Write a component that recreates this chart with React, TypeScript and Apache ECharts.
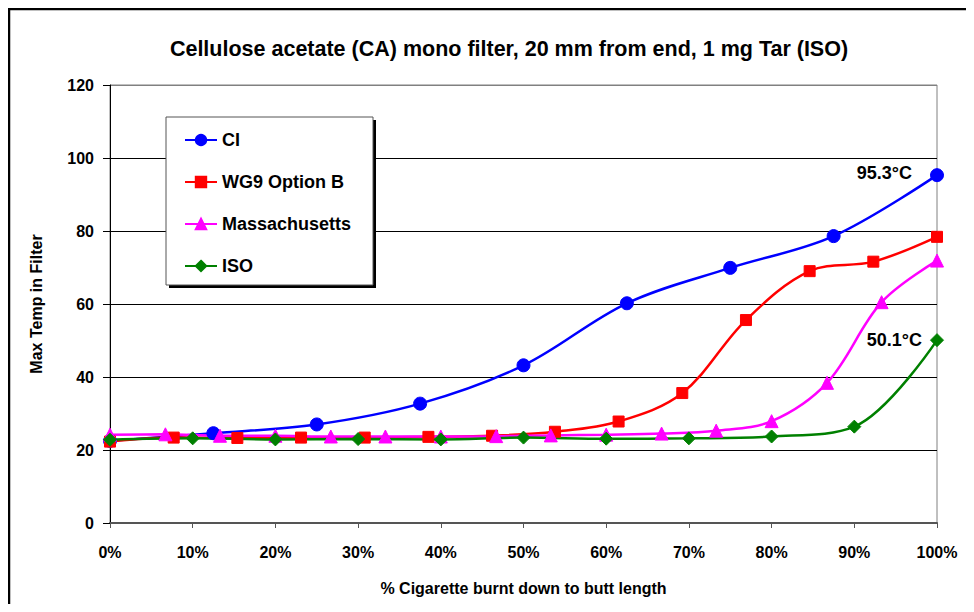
import React, { useEffect, useRef } from "react";
import * as echarts from "echarts";

const titleText = "Cellulose acetate (CA) mono filter, 20 mm from end, 1 mg Tar (ISO)";
const xAxisName = "% Cigarette burnt down to butt length";
const yAxisName = "Max Temp in Filter";

const ciX = [0, 12.5, 25, 37.5, 50, 62.5, 75, 87.5, 100];
const ciY = [22.5, 24.6, 27.0, 32.7, 43.2, 60.2, 69.9, 78.6, 95.3];

const wg9X = [0, 7.7, 15.4, 23.1, 30.8, 38.5, 46.2, 53.8, 61.5, 69.2, 76.9, 84.6, 92.3, 100];
const wg9Y = [22.3, 23.4, 23.3, 23.4, 23.4, 23.6, 23.9, 25.0, 27.8, 35.6, 55.6, 69.0, 71.6, 78.4];

const massX = [0, 6.7, 13.3, 20, 26.7, 33.3, 40, 46.7, 53.3, 60, 66.7, 73.3, 80, 86.7, 93.3, 100];
const massY = [24.2, 24.3, 23.9, 23.9, 23.7, 23.7, 23.7, 23.8, 24.0, 24.2, 24.5, 25.3, 27.9, 38.4, 60.5, 71.9];

const isoX = [0, 10, 20, 30, 40, 50, 60, 70, 80, 90, 100];
const isoY = [22.8, 23.2, 22.9, 23.0, 22.9, 23.4, 23.1, 23.2, 23.7, 26.4, 50.1];

const seriesNames = ["CI", "WG9 Option B", "Massachusetts", "ISO"];
const seriesColors = ["#0000FF", "#FF0000", "#FF00FF", "#008000"];

const FONT = "Liberation Sans, Arial, sans-serif";

export default function App() {
  const ref = useRef<HTMLDivElement>(null);
  useEffect(() => {
    if (!ref.current) return;
    const chart = echarts.init(ref.current, undefined, { renderer: "svg" });
    const pairs = (xs: number[], ys: number[]) => xs.map((x, i) => [x, ys[i]]);
    const labelStyle = { fontFamily: FONT, fontWeight: "bold" as const, fontSize: 18, color: "#000" };
    const ciData: any[] = pairs(ciX, ciY);
    ciData[ciData.length - 1] = {
      value: ciData[ciData.length - 1],
      label: { show: true, position: "left", distance: 18, offset: [0, -2], formatter: "95.3°C", ...labelStyle },
    };
    const isoData: any[] = pairs(isoX, isoY);
    isoData[isoData.length - 1] = {
      value: isoData[isoData.length - 1],
      label: { show: true, position: "left", distance: 8, offset: [0, 0], formatter: "50.1°C", ...labelStyle },
    };
    const mk = (name: string, color: string, data: any[], symbol: string, size: number) => ({
      name,
      type: "line",
      data,
      smooth: 0.35,
      symbol,
      symbolSize: size,
      showAllSymbol: true,
      lineStyle: { color, width: 2.5 },
      itemStyle: { color, borderColor: color, borderWidth: 1 },
      emphasis: { disabled: true },
    });
    chart.setOption({
      animation: false,
      backgroundColor: "#fff",
      title: {
        text: titleText,
        left: 504,
        textAlign: "center",
        top: 33,
        textStyle: { fontFamily: FONT, fontWeight: "bold", fontSize: 21.5, color: "#000" },
      },
      grid: { left: 110, right: 37, top: 85, bottom: 89, show: true, borderColor: "#808080", borderWidth: 1 },
      legend: {
        orient: "vertical",
        left: 179,
        top: 126,
        itemWidth: 32,
        itemHeight: 13,
        itemGap: 24,
        z: 5,
        data: seriesNames,
        textStyle: { fontFamily: FONT, fontWeight: "bold", fontSize: 18, color: "#000", lineHeight: 18 },
      },
      graphic: [
        { type: "rect", z: 3, shape: { x: 9, y: 9, width: 1100, height: 800 }, style: { fill: "none", stroke: "#000", lineWidth: 2.5 } },
        { type: "rect", z: 3, shape: { x: 169, y: 120, width: 207, height: 168 }, style: { fill: "#000" } },
        { type: "rect", z: 3, shape: { x: 166, y: 117, width: 207, height: 168 }, style: { fill: "#fff", stroke: "#555", lineWidth: 1 } },
      ],
      xAxis: {
        type: "value",
        min: 0,
        max: 100,
        interval: 10,
        name: xAxisName,
        nameLocation: "middle",
        nameGap: 57,
        nameTextStyle: { fontFamily: FONT, fontWeight: "bold", fontSize: 16, color: "#000", verticalAlign: "top" },
        axisLine: { show: true, onZero: false, lineStyle: { color: "#555", width: 2 } },
        axisTick: { show: true, inside: false, length: 5, lineStyle: { color: "#555", width: 1 } },
        splitLine: { show: false },
        axisLabel: { margin: 21, formatter: "{value}%", fontFamily: FONT, fontWeight: "bold", fontSize: 16, color: "#000" },
      },
      yAxis: {
        type: "value",
        min: 0,
        max: 120,
        interval: 20,
        name: yAxisName,
        nameLocation: "middle",
        nameGap: 66,
        nameRotate: 90,
        nameTextStyle: { fontFamily: FONT, fontWeight: "bold", fontSize: 16, color: "#000" },
        axisLine: { show: true, lineStyle: { color: "#000", width: 1 } },
        axisTick: { show: true, inside: false, length: 7, lineStyle: { color: "#000", width: 1 } },
        splitLine: {
          show: true,
          lineStyle: { color: ["#808080", "#000", "#000", "#000", "#000", "#000", "#808080"], width: 1 },
        },
        axisLabel: { margin: 16, fontFamily: FONT, fontWeight: "bold", fontSize: 16, color: "#000" },
      },
      series: [
        mk("CI", seriesColors[0], ciData, "circle", 13),
        mk("WG9 Option B", seriesColors[1], pairs(wg9X, wg9Y), "rect", 11),
        mk("Massachusetts", seriesColors[2], pairs(massX, massY), "triangle", 13),
        mk("ISO", seriesColors[3], isoData, "diamond", 13),
      ],
    });
    return () => chart.dispose();
  }, []);
  return <div ref={ref} style={{ width: 974, height: 612, margin: -8 }} />;
}
